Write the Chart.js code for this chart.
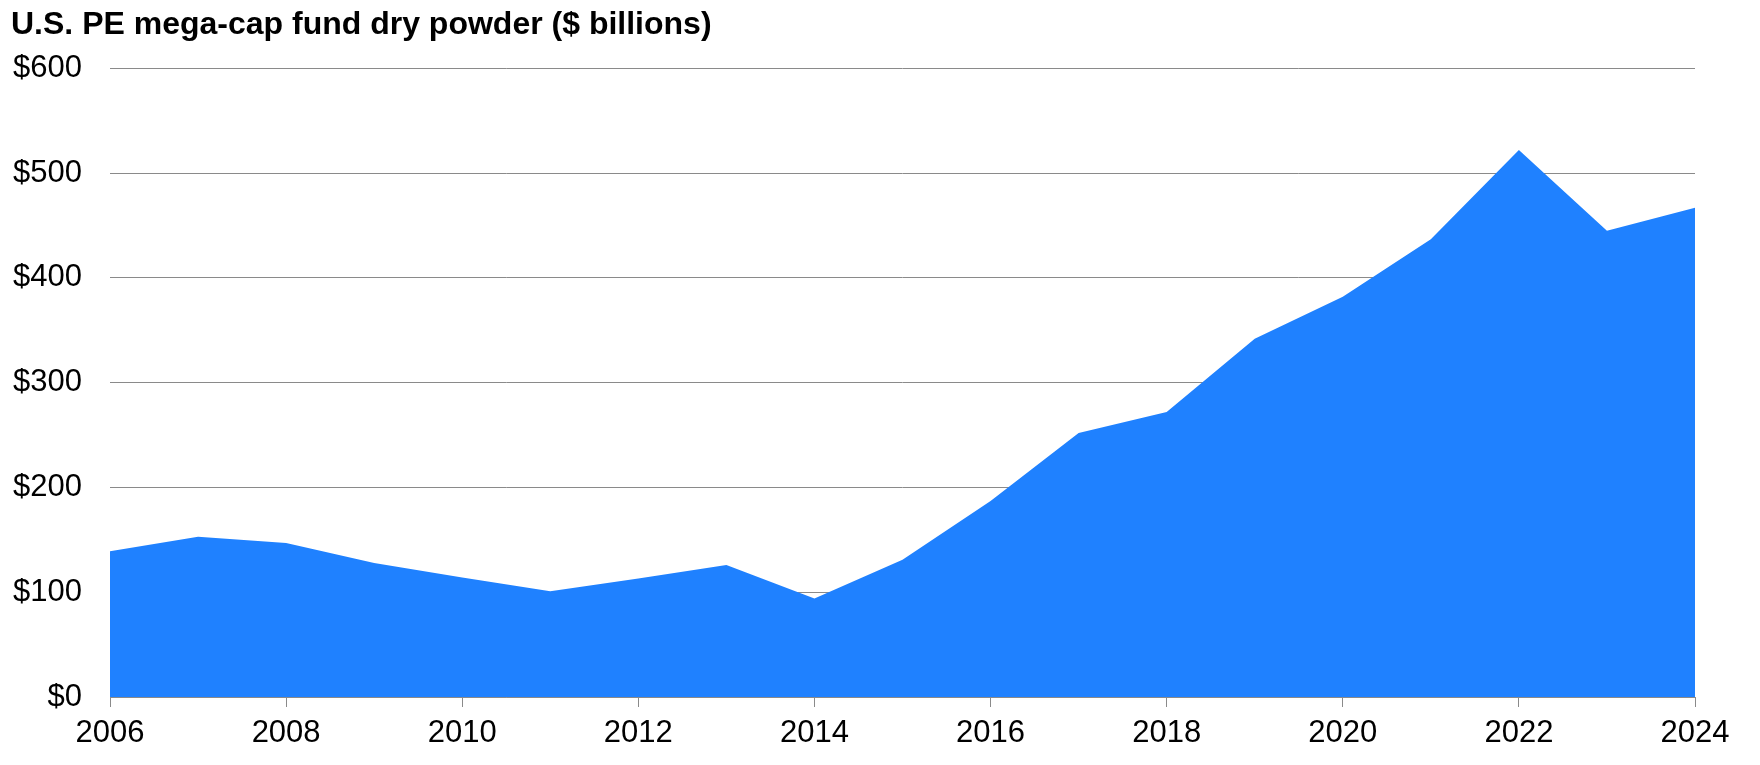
<!DOCTYPE html>
<html>
<head>
<meta charset="utf-8">
<script src="https://cdn.jsdelivr.net/npm/chart.js@4.4.1/dist/chart.umd.min.js"></script>
<style>
  html, body { margin: 0; padding: 0; background: #ffffff; }
  #wrap { width: 1760px; height: 765px; position: relative; }
</style>
</head>
<body>
<div id="wrap"><canvas id="c" width="1760" height="765"></canvas></div>
<script>
const chartTitle = 'U.S. PE mega-cap fund dry powder ($ billions)';
const years = [2006, 2007, 2008, 2009, 2010, 2011, 2012, 2013, 2014, 2015,
               2016, 2017, 2018, 2019, 2020, 2021, 2022, 2023, 2024];
const dryPowder = [139, 153, 147, 128, 114, 101, 113, 126, 94, 131,
                   187, 252, 272, 342, 382, 437, 522, 445, 467];
const yTickValues = [0, 100, 200, 300, 400, 500, 600];
const xTickYears = [2006, 2008, 2010, 2012, 2014, 2016, 2018, 2020, 2022, 2024];

const points = years.map((yr, i) => ({ x: yr, y: dryPowder[i] }));
const FONT = "'Liberation Sans', Arial, Helvetica, sans-serif";

new Chart(document.getElementById('c'), {
  type: 'line',
  data: {
    datasets: [{
      data: points,
      fill: 'origin',
      backgroundColor: '#1f81ff',
      borderColor: '#1f81ff',
      borderWidth: 0,
      pointRadius: 0,
      tension: 0
    }]
  },
  options: {
    responsive: false,
    animation: false,
    devicePixelRatio: 1,
    layout: { padding: { left: 11, right: 65, top: 0, bottom: 10 } },
    plugins: {
      legend: { display: false },
      tooltip: { enabled: false },
      title: {
        display: true,
        text: chartTitle,
        align: 'start',
        color: '#000000',
        font: { family: FONT, size: 32, weight: 'bold', lineHeight: 1.2 },
        padding: { top: 6, bottom: 24 }
      }
    },
    scales: {
      x: {
        type: 'linear',
        min: years[0],
        max: years[years.length - 1],
        afterBuildTicks: (axis) => { axis.ticks = xTickYears.map(v => ({ value: v })); },
        afterFit: (axis) => { axis.height = 58; },
        ticks: {
          color: '#000000',
          font: { family: FONT, size: 31 },
          padding: 8,
          maxRotation: 0,
          autoSkip: false,
          callback: (v) => String(v)
        },
        grid: {
          drawOnChartArea: false,
          drawTicks: true,
          tickLength: 10,
          color: '#8a8a8a',
          lineWidth: 1
        },
        border: { display: true, color: '#8a8a8a', width: 1 }
      },
      y: {
        type: 'linear',
        min: yTickValues[0],
        max: yTickValues[yTickValues.length - 1],
        afterBuildTicks: (axis) => { axis.ticks = yTickValues.map(v => ({ value: v })); },
        afterFit: (axis) => { axis.width = 99; },
        ticks: {
          color: '#000000',
          font: { family: FONT, size: 31 },
          padding: 28,
          callback: (v) => '$' + v
        },
        grid: {
          drawTicks: false,
          color: '#8a8a8a',
          lineWidth: 1
        },
        border: { display: false }
      }
    }
  }
});
</script>
</body>
</html>
